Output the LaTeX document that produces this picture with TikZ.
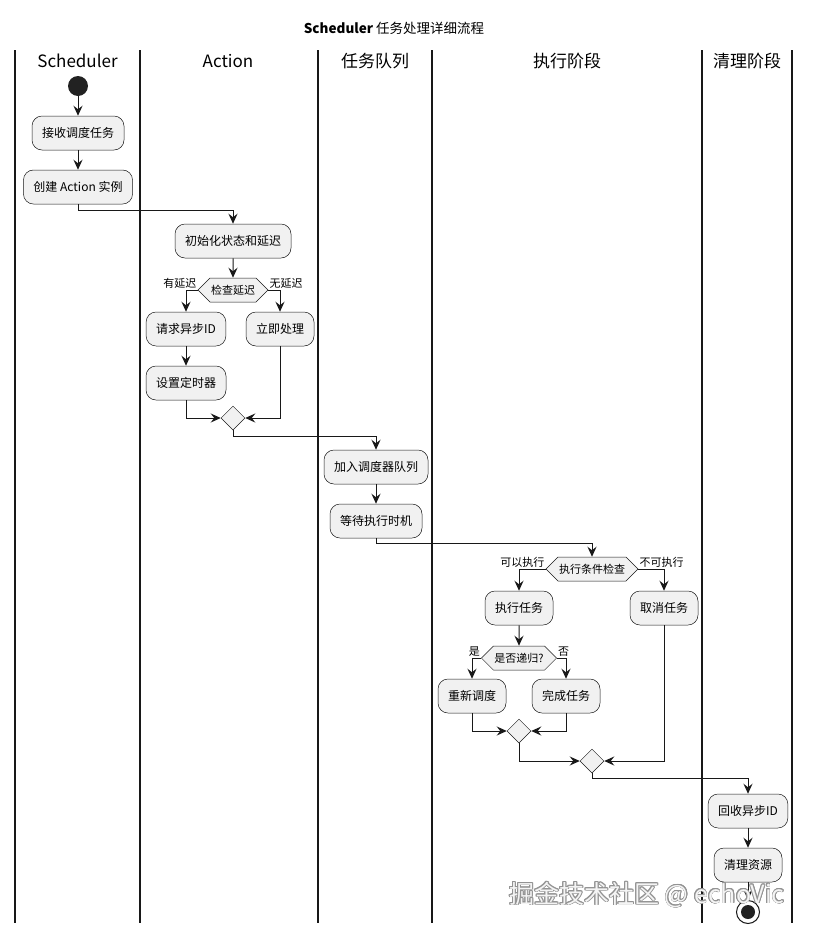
\documentclass[tikz,border=0pt]{standalone}
\usepackage{fontspec}
\setmainfont{Noto Sans CJK SC}
\usepackage{contour}
\usetikzlibrary{arrows.meta,shapes.geometric,shapes.symbols}

\begin{document}
\begin{tikzpicture}[x=1pt,y=-1pt,font=\fontsize{12}{14}\selectfont]

\definecolor{umlink}{HTML}{181818}
\definecolor{umlfill}{HTML}{F1F1F1}
\definecolor{umldot}{HTML}{222222}

\tikzset{
  activity/.style={
    rectangle, rounded corners=10pt, draw=umlink, fill=umlfill,
    line width=0.5pt, minimum height=34pt, inner xsep=10pt,
    font=\fontsize{12}{14}\selectfont
  },
  branch/.style={
    signal, signal to=west and east, draw=umlink, fill=umlfill,
    line width=0.5pt, minimum height=24pt, inner xsep=1pt, inner ysep=0pt,
    font=\fontsize{11}{13}\selectfont
  },
  merge/.style={
    diamond, draw=umlink, fill=umlfill, line width=0.5pt,
    minimum size=24pt, inner sep=0pt
  },
  flow/.style={
    draw=umlink, line width=1pt, -{Stealth[length=10pt,width=9pt,inset=3.5pt]}
  },
  guard/.style={font=\fontsize{11}{13}\selectfont, inner sep=1pt},
  lane/.style={draw=umlink, line width=1.5pt},
  lanehead/.style={font=\fontsize{17}{20}\selectfont}
}

\useasboundingbox (0,0) rectangle (812,935);

% Title and swimlanes.
\node[font=\fontsize{13.5}{16}\selectfont] (title) at (394,28)
  {\textbf{Scheduler} 任务处理详细流程};
\foreach \x in {15,140,318,432,702,792}
  \draw[lane] (\x,50) -- (\x,923);
\node[lanehead] (hsched)  at (77.5,61) {Scheduler};
\node[lanehead] (haction) at (228,61)  {Action};
\node[lanehead] (hqueue)  at (375,61)  {任务队列};
\node[lanehead] (hexec)   at (567,61)  {执行阶段};
\node[lanehead] (hclean)  at (747,61)  {清理阶段};

% Scheduler lane.
\node[circle, fill=umldot, minimum size=20pt, inner sep=0pt] (start) at (78,86) {};
\node[activity] (recv)   at (78,133) {接收调度任务};
\node[activity] (create) at (78,187) {创建 Action 实例};

% Action lane: delay check.
\node[activity] (init)     at (233,241) {初始化状态和延迟};
\node[branch]   (chkdelay) at (233,290) {检查延迟};
\node[activity] (reqid)    at (186,329) {请求异步ID};
\node[activity] (now)      at (280,329) {立即处理};
\node[activity] (timer)    at (186,383) {设置定时器};
\node[merge]    (mrgdelay) at (233,418) {};
\node[guard, anchor=south east] (gdelay) at (chkdelay.west) {有延迟};
\node[guard, anchor=south west] (gnodelay) at (chkdelay.east) {无延迟};

% Queue lane.
\node[activity] (enqueue) at (376,467) {加入调度器队列};
\node[activity] (wait)    at (376,521) {等待执行时机};

% Execution lane.
\node[branch]   (chkrun)  at (592,569) {执行条件检查};
\node[activity] (run)     at (519,608) {执行任务};
\node[activity] (cancel)  at (664,608) {取消任务};
\node[branch]   (chkrec)  at (519,658) {是否递归?};
\node[activity] (resched) at (472,696) {重新调度};
\node[activity] (finish)  at (566,696) {完成任务};
\node[merge]    (mrgrec)  at (519,731) {};
\node[merge]    (mrgrun)  at (592,761) {};
\node[guard, anchor=south east] (gcan)   at (chkrun.west) {可以执行};
\node[guard, anchor=south west] (gcannot) at (chkrun.east) {不可执行};
\node[guard, anchor=south east] (gyes) at (chkrec.west) {是};
\node[guard, anchor=south west] (gno)  at (chkrec.east) {否};

% Cleanup lane.
\node[activity] (release) at (748,811) {回收异步ID};
\node[activity] (cleanup) at (748,865) {清理资源};
\node[circle, draw=umlink, fill=white, line width=1pt, minimum size=23pt, inner sep=0pt] (end) at (748,912) {};
\node[circle, fill=umldot, minimum size=14pt, inner sep=0pt] (endcore) at (end) {};

% Straight steps.
\foreach \from/\to in {start/recv, recv/create, init/chkdelay, reqid/timer,
  enqueue/wait, run/chkrec, release/cleanup, cleanup/end}
  \draw[flow] (\from) -- (\to);

% Hand-overs between lanes.
\draw[flow] (create.south) -- ++(0,6) -| (init.north);
\draw[flow] (mrgdelay.south) -- ++(0,6) -| (enqueue.north);
\draw[flow] (wait.south) -- ++(0,5) -| (chkrun.north);
\draw[flow] (mrgrun.south) -- ++(0,5) -| (release.north);

% Branches out of each check.
\foreach \from/\to in {chkdelay.west/reqid, chkdelay.east/now,
  chkrun.west/run, chkrun.east/cancel, chkrec.west/resched, chkrec.east/finish}
  \draw[flow] (\from) -| (\to.north);

% Branches joining again.
\foreach \from/\to in {timer/mrgdelay.west, now/mrgdelay.east,
  resched/mrgrec.west, finish/mrgrec.east, mrgrec/mrgrun.west, cancel/mrgrun.east}
  \draw[flow] (\from.south) |- (\to);

% Watermark.
\contourlength{0.7pt}
\node[font=\fontsize{25}{29}\selectfont, opacity=0.9] (mark) at (647,895)
  {\contour{gray!85}{\textcolor{white}{掘金技术社区 @ echoVic}}};

\end{tikzpicture}
\end{document}
